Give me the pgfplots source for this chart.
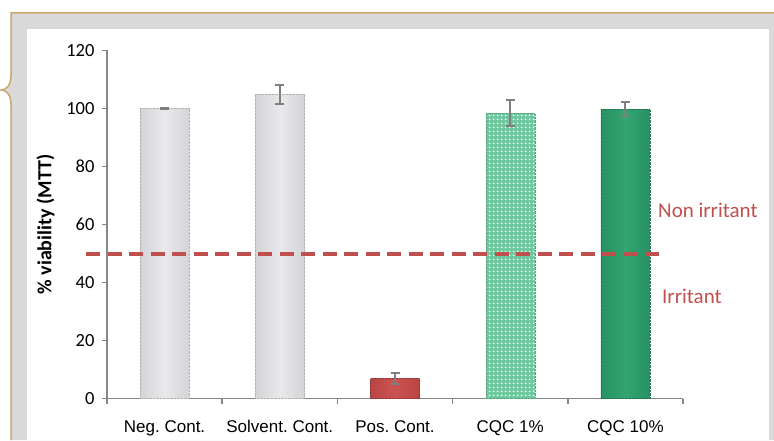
\documentclass[border=0pt]{standalone}
\usepackage{pgfplots}
\pgfplotsset{compat=1.18}
\usepackage{fontspec}
\setmainfont{Carlito}
\newfontfamily\arialf{Liberation Sans}
\usetikzlibrary{patterns}
\pgfdeclarepatternformonly{mydots}{\pgfpointorigin}{\pgfpoint{4pt}{4pt}}{\pgfpoint{4pt}{4pt}}{%
  \pgfpathcircle{\pgfpoint{2pt}{2pt}}{1.1pt}\pgfusepath{fill}}
\definecolor{tanc}{RGB}{201,168,106}
\definecolor{framegray}{RGB}{217,217,217}
\definecolor{axgray}{RGB}{134,134,134}
\definecolor{errgray}{RGB}{127,127,127}
\definecolor{barred}{RGB}{204,82,80}
\definecolor{barredE}{RGB}{185,70,68}
\definecolor{bargreen}{RGB}{50,165,112}
\definecolor{bargreenE}{RGB}{40,145,98}
\definecolor{lightgreen}{RGB}{110,200,158}
\definecolor{bargray}{RGB}{233,233,235}
\definecolor{bargrayE}{RGB}{212,212,214}
\definecolor{annred}{RGB}{192,80,77}
\pgfplotsset{mybar/.style={ybar, bar width=49pt, bar shift=0pt,
  error bars/y dir=both, error bars/y explicit,
  error bars/error bar style={solid, errgray, line width=2pt},
  error bars/error mark options={rotate=90, mark size=4.5pt, errgray, line width=2pt, solid}}}
\begin{document}
\begin{tikzpicture}[x=1pt,y=1pt]
\path[use as bounding box] (0,0) rectangle (774,440);
\fill[framegray] (774,427) -- (11,427) -- (11,365) .. controls (11,354) and (6,350) .. (1,350) .. controls (6,350) and (11,346) .. (11,335) -- (11,0) -- (774,0) -- cycle;
\draw[tanc, line width=1.5pt] (774,427) -- (11,427) -- (11,365) .. controls (11,354) and (6,350) .. (1,350) .. controls (6,350) and (11,346) .. (11,335) -- (11,0);
\fill[white] (27,0) rectangle (769,411);
\begin{axis}[at={(107pt,41.5pt)}, anchor=south west, scale only axis,
  width=576pt, height=348pt,
  xmin=-0.5, xmax=4.5, ymin=0, ymax=120,
  axis x line*=bottom, axis y line*=left,
  axis line style={axgray, line width=1.5pt},
  tick style={axgray, line width=1.5pt},
  tick align=outside, major tick length=5pt, minor tick length=5pt,
  ytick={0,20,40,60,80,100,120},
  yticklabels={0,20,40,60,80,100,120},
  xtick={0,1,2,3,4},
  xticklabels={Neg. Cont., Solvent. Cont., Pos. Cont., CQC 1\%, CQC 10\%},
  minor xtick={-0.5,0.5,...,4.5},
  major x tick style={draw=none},
  y tick label style={font=\fontsize{18.5}{20}\selectfont, xshift=-4pt},
  x tick label style={font=\arialf\frenchspacing\fontsize{17}{20}\selectfont, text height=12.5pt, text depth=3.5pt, yshift=-13pt},
  ylabel={\% viability (MTT)},
  ylabel style={at={(rel axis cs:-0.1068,0.5)}, anchor=center, font=\bfseries\fontsize{20}{22}\selectfont},
  clip=false]
\addplot[mybar, left color=bargrayE, right color=bargrayE, middle color=bargray, draw=gray!60, densely dotted] coordinates {(0,100) +- (0,0.3)};
\addplot[mybar, left color=bargrayE, right color=bargrayE, middle color=bargray, draw=gray!60, densely dotted] coordinates {(1,104.8) +- (0,3.3)};
\addplot[mybar, left color=barredE, right color=barredE, middle color=barred, draw=barred!70!black, densely dotted] coordinates {(2,7) +- (0,1.9)};
\addplot[mybar, fill=lightgreen, draw=lightgreen!80!black, densely dotted, postaction={pattern=mydots, pattern color=white}] coordinates {(3,98.3) +- (0,4.5)};
\addplot[mybar, left color=bargreenE, right color=bargreenE, middle color=bargreen, draw=bargreen!70!black, densely dotted] coordinates {(4,99.7) +- (0,2.4)};
\addplot[sharp plot, annred, line width=4pt, dash pattern=on 14pt off 7.5pt] coordinates {(-0.68,50) (4.32,50)};
\end{axis}
\node[anchor=base west, inner sep=0pt, text=annred, font=\fontsize{21}{24}\selectfont] at (658,223) {Non irritant};
\node[anchor=base west, inner sep=0pt, text=annred, font=\fontsize{21}{24}\selectfont] at (662,137) {Irritant};
\end{tikzpicture}
\end{document}
